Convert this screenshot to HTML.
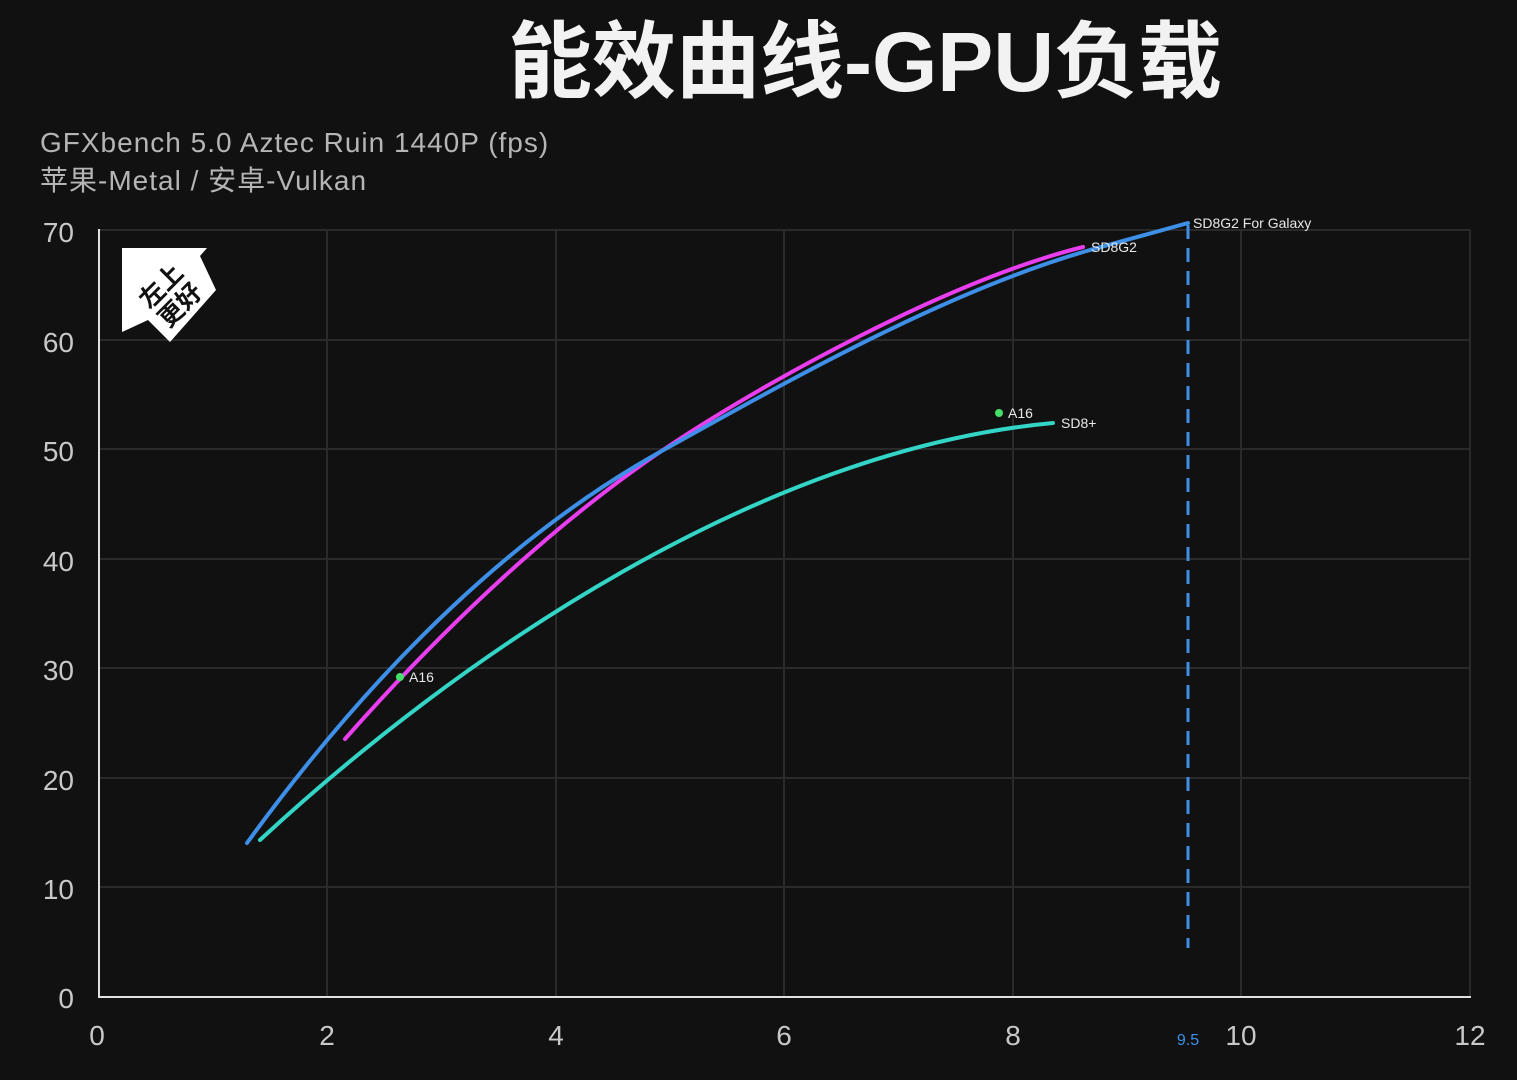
<!DOCTYPE html>
<html><head><meta charset="utf-8"><style>
html,body{margin:0;padding:0;background:#111111;}
body{width:1517px;height:1080px;overflow:hidden;position:relative;font-family:"Liberation Sans","Noto Sans CJK SC",sans-serif;}
</style></head><body>
<svg width="1517" height="1080" viewBox="0 0 1517 1080" xmlns="http://www.w3.org/2000/svg" style="position:absolute;left:0;top:0">
<rect width="1517" height="1080" fill="#111111"/>
<text x="865" y="91" text-anchor="middle" font-size="84" font-weight="bold" fill="#f2f2f2" font-family="Liberation Sans,Noto Sans CJK SC,sans-serif">能效曲线-GPU负载</text>
<text x="40" y="152" font-size="28" letter-spacing="1" fill="#b5b5b5" font-family="Liberation Sans,Noto Sans CJK SC,sans-serif">GFXbench 5.0 Aztec Ruin 1440P (fps)</text>
<text x="40" y="190" font-size="28" letter-spacing="1" fill="#b5b5b5" font-family="Liberation Sans,Noto Sans CJK SC,sans-serif">苹果-Metal / 安卓-Vulkan</text>
<g stroke="#2a2a2a" stroke-width="2">
<line x1="99" y1="230" x2="1470" y2="230"/><line x1="99" y1="340" x2="1470" y2="340"/><line x1="99" y1="449" x2="1470" y2="449"/><line x1="99" y1="559" x2="1470" y2="559"/><line x1="99" y1="668" x2="1470" y2="668"/><line x1="99" y1="778" x2="1470" y2="778"/><line x1="99" y1="887" x2="1470" y2="887"/>
<line x1="327" y1="230" x2="327" y2="997"/><line x1="556" y1="230" x2="556" y2="997"/><line x1="784" y1="230" x2="784" y2="997"/><line x1="1013" y1="230" x2="1013" y2="997"/><line x1="1241" y1="230" x2="1241" y2="997"/><line x1="1470" y1="230" x2="1470" y2="997"/>
</g>
<line x1="99" y1="229" x2="99" y2="998" stroke="#e0e0e0" stroke-width="2"/>
<line x1="98" y1="997" x2="1471" y2="997" stroke="#e0e0e0" stroke-width="2"/>
<g font-size="28" fill="#c8c8c8" font-family="Liberation Sans,sans-serif" text-anchor="end">
<text x="74" y="242">70</text><text x="74" y="352">60</text><text x="74" y="461">50</text><text x="74" y="571">40</text><text x="74" y="680">30</text><text x="74" y="790">20</text><text x="74" y="899">10</text><text x="74" y="1008">0</text>
</g>
<g font-size="28" fill="#c8c8c8" font-family="Liberation Sans,sans-serif" text-anchor="middle">
<text x="97" y="1045">0</text><text x="327" y="1045">2</text><text x="556" y="1045">4</text><text x="784" y="1045">6</text><text x="1013" y="1045">8</text><text x="1241" y="1045">10</text><text x="1470" y="1045">12</text>
</g>
<text x="1188" y="1045" font-size="16" fill="#3d8fe8" text-anchor="middle" font-family="Liberation Sans,sans-serif">9.5</text>
<polygon points="122,248 207,248 200,256 216,290 170,342 148,320 122,332" fill="#ffffff"/>
<text transform="translate(170,295) rotate(-45)" font-size="25" font-weight="bold" fill="#111" text-anchor="middle" font-family="Noto Sans CJK SC,sans-serif"><tspan x="0" y="-4">左上</tspan><tspan x="0" y="23">更好</tspan></text>
<line x1="1188" y1="225" x2="1188" y2="948" stroke="#3d8fe8" stroke-width="3" stroke-dasharray="14,9"/>
<g fill="none" stroke-width="4" stroke-linecap="round">
<path d="M260,840 C460,655 760,450 1053,423" stroke="#33d6c6"/>
<path d="M345,739 C450,620 560,520 660,452 S950,280 1083,247" stroke="#e83ef0"/>
<path d="M247,843 C380,660 520,530 660,452 S950,290 1090,250 L1188,223" stroke="#3d8fe8"/>
</g>
<circle cx="400" cy="677" r="4" fill="#44e06a"/>
<circle cx="999" cy="413" r="4" fill="#44e06a"/>
<g font-size="14" fill="#e8e8e8" font-family="Liberation Sans,sans-serif">
<text x="409" y="682">A16</text>
<text x="1008" y="418">A16</text>
<text x="1061" y="428">SD8+</text>
<text x="1091" y="252">SD8G2</text>
<text x="1193" y="228">SD8G2 For Galaxy</text>
</g>
</svg>
</body></html>
